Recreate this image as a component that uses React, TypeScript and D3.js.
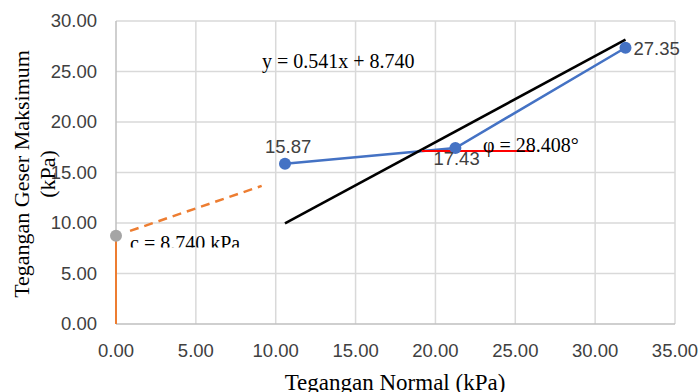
import React, { useEffect, useRef } from 'react';
import * as d3 from 'd3';

// measured points (kPa)
const normalStress = [10.58, 21.25, 31.9];
const shearStress = [15.87, 17.43, 27.35];
const pointLabels = ['15.87', '17.43', '27.35'];

// black envelope line
const envelopeX = [10.58, 31.9];
const envelopeY = [9.97, 28.15];

// regression y = 0.541x + 8.740 (dashed part near origin)
const slope = 0.541;
const intercept = 8.74;
const dashedX = [0.88, 9.12];

// red horizontal reference for angle
const angleX = [19.14, 26.17];
const angleY = [17.13, 17.13];

const xTicks = [0, 5, 10, 15, 20, 25, 30, 35];
const yTicks = [0, 5, 10, 15, 20, 25, 30];

const App = () => {
  const svgRef = useRef<SVGSVGElement>(null);

  useEffect(() => {
    document.body.style.margin = '0';
    const svg = d3.select(svgRef.current);
    svg.selectAll('*').remove();

    const x = d3.scaleLinear().domain([0, 35]).range([116, 675]);
    const y = d3.scaleLinear().domain([0, 30]).range([324, 21]);
    const sans = '"Liberation Sans", Arial, sans-serif';
    const serif = '"Liberation Serif", "Times New Roman", serif';

    svg.append('defs').append('clipPath').attr('id', 'cclip')
      .append('rect').attr('x', 0).attr('y', 0).attr('width', 700).attr('height', 247.5);

    // gridlines
    const grid = svg.append('g').attr('stroke', '#d9d9d9').attr('stroke-width', 1.5);
    grid.selectAll('.vx').data(xTicks.slice(1)).join('line')
      .attr('x1', d => x(d)).attr('x2', d => x(d)).attr('y1', y(0)).attr('y2', y(30));
    grid.selectAll('.hy').data(yTicks.slice(1)).join('line')
      .attr('x1', x(0)).attr('x2', x(35)).attr('y1', d => y(d)).attr('y2', d => y(d));

    // axes lines
    svg.append('line').attr('x1', x(0)).attr('x2', x(35)).attr('y1', y(0)).attr('y2', y(0))
      .attr('stroke', '#bfbfbf').attr('stroke-width', 1.5);
    svg.append('line').attr('x1', x(0)).attr('x2', x(0)).attr('y1', y(0)).attr('y2', y(30))
      .attr('stroke', '#bfbfbf').attr('stroke-width', 1.5);

    // tick labels
    svg.append('g').selectAll('text').data(yTicks).join('text')
      .attr('x', 97).attr('y', d => y(d)).attr('dy', '0.35em')
      .attr('text-anchor', 'end').attr('font-family', sans).attr('font-size', 18.5)
      .attr('fill', '#404040').text(d => d.toFixed(2));
    svg.append('g').selectAll('text').data(xTicks).join('text')
      .attr('x', d => x(d)).attr('y', 357).attr('text-anchor', 'middle')
      .attr('font-family', sans).attr('font-size', 18.5)
      .attr('fill', '#404040').text(d => d.toFixed(2));

    // axis titles
    svg.append('text').attr('x', 395).attr('y', 390).attr('text-anchor', 'middle')
      .attr('font-family', serif).attr('font-size', 23).attr('fill', '#000')
      .text('Tegangan Normal (kPa)');
    const yt = svg.append('text').attr('transform', 'translate(0,174) rotate(-90)')
      .attr('text-anchor', 'middle').attr('font-family', serif).attr('font-size', 22).attr('fill', '#000');
    yt.append('tspan').attr('x', 0).attr('y', 29).text('Tegangan Geser Maksimum');
    yt.append('tspan').attr('x', 0).attr('y', 55).text('(kPa)');

    // orange vertical (cohesion)
    svg.append('line').attr('x1', x(0)).attr('x2', x(0)).attr('y1', y(0)).attr('y2', y(intercept))
      .attr('stroke', '#ED7D31').attr('stroke-width', 2);

    // orange dashed regression
    svg.append('path')
      .datum(dashedX.map(v => [v, slope * v + intercept] as [number, number]))
      .attr('fill', 'none').attr('stroke', '#ED7D31').attr('stroke-width', 2.5)
      .attr('stroke-dasharray', '9,6')
      .attr('d', d3.line<[number, number]>().x(d => x(d[0])).y(d => y(d[1])));

    svg.append('circle').attr('cx', x(0)).attr('cy', y(intercept)).attr('r', 6).attr('fill', '#A5A5A5');

    // blue measured line
    const pts = normalStress.map((v, i) => [v, shearStress[i]] as [number, number]);
    svg.append('path').datum(pts).attr('fill', 'none').attr('stroke', '#4472C4').attr('stroke-width', 2.5)
      .attr('d', d3.line<[number, number]>().x(d => x(d[0])).y(d => y(d[1])));

    // black envelope
    svg.append('path').datum(envelopeX.map((v, i) => [v, envelopeY[i]] as [number, number]))
      .attr('fill', 'none').attr('stroke', '#000').attr('stroke-width', 2.5)
      .attr('d', d3.line<[number, number]>().x(d => x(d[0])).y(d => y(d[1])));

    // red angle reference
    svg.append('path').datum(angleX.map((v, i) => [v, angleY[i]] as [number, number]))
      .attr('fill', 'none').attr('stroke', '#FF0000').attr('stroke-width', 2)
      .attr('d', d3.line<[number, number]>().x(d => x(d[0])).y(d => y(d[1])));

    svg.append('g').selectAll('circle').data(pts).join('circle')
      .attr('cx', d => x(d[0])).attr('cy', d => y(d[1])).attr('r', 6).attr('fill', '#4472C4');

    // data labels
    const labelPos = [[-20, -11], [-22, 17], [8, 7]];
    svg.append('g').selectAll('text').data(pts).join('text')
      .attr('x', (d, i) => x(d[0]) + labelPos[i][0]).attr('y', (d, i) => y(d[1]) + labelPos[i][1])
      .attr('font-family', sans).attr('font-size', 18.5).attr('fill', '#404040')
      .text((d, i) => pointLabels[i]);

    // annotations
    svg.append('text').attr('x', 262).attr('y', 68).attr('font-family', serif).attr('font-size', 20)
      .attr('fill', '#000').text(`y = ${slope.toFixed(3)}x + ${intercept.toFixed(3)}`);
    svg.append('text').attr('x', 483).attr('y', 152).attr('font-family', serif).attr('font-size', 20)
      .attr('fill', '#000').text('φ = 28.408°');
    svg.append('text').attr('x', 130).attr('y', 250).attr('font-family', serif).attr('font-size', 20)
      .attr('fill', '#000').attr('clip-path', 'url(#cclip)').text(`c = ${intercept.toFixed(3)} kPa`);
  }, []);

  return <svg ref={svgRef} width={700} height={392} style={{ display: 'block', background: '#fff' }} />;
};

export default App;
